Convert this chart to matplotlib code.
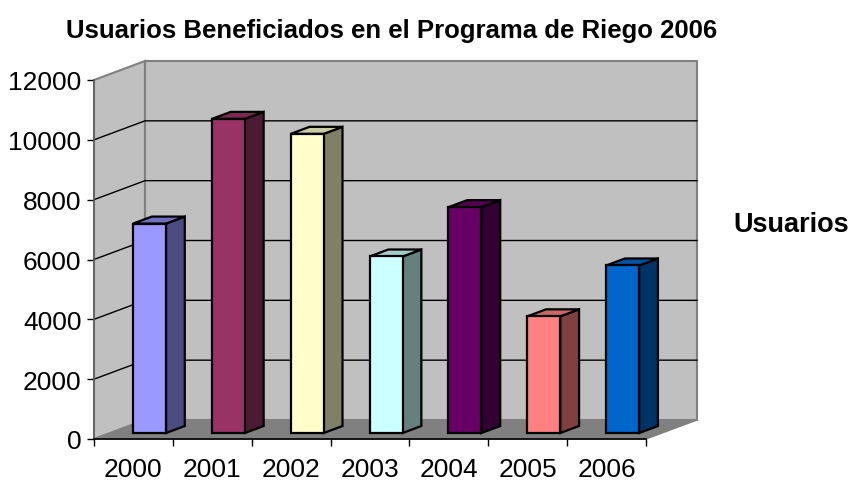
import numpy as np
import matplotlib
matplotlib.use('Agg')
import matplotlib.pyplot as plt

# --- Datos ---
YEARS = ['2000', '2001', '2002', '2003', '2004', '2005', '2006']
USERS = [7000, 10500, 10000, 5900, 7550, 3900, 5600]
FRONT = ['#9999FF', '#993366', '#FFFFCC', '#CCFFFF', '#660066', '#FF8080', '#0066CC']
SIDE = ['#4C4C80', '#4D1A33', '#808066', '#668080', '#330033', '#804040', '#003366']
TOP = ['#7070C0', '#7A2952', '#CCCCA3', '#A3CCCC', '#520052', '#CC6666', '#0052A3']
YTICKS = [0, 2000, 4000, 6000, 8000, 10000, 12000]
TITLE = 'Usuarios Beneficiados en el Programa de Riego 2006'
SERIES = 'Usuarios'

# --- Geometria 3D falsa (unidades de datos) ---
DX, DY = 0.6467, 635.0      # desplazamiento de profundidad total
D0, BD = 0.316, 0.368       # inicio y profundidad de la barra
W = 0.418                   # ancho de la cara frontal
YMAX = 12000
N = len(YEARS)

plt.rcParams['font.family'] = ['Liberation Sans', 'DejaVu Sans']

fig = plt.figure(figsize=(8.55, 4.81), dpi=100)
ax = fig.add_axes([94 / 855, 41 / 481, 552 / 855, 359 / 481])
ax.set_xlim(0, N)
ax.set_ylim(0, YMAX)
ax.patch.set_visible(False)

def poly(xs, ys, fc, ec, lw=1.0, z=1):
    ax.fill(xs, ys, facecolor=fc, edgecolor=ec, linewidth=lw, zorder=z, clip_on=False)

# paredes y piso
poly([0, DX, DX, 0], [0, DY, YMAX + DY, YMAX], '#C0C0C0', '#808080', 1.5, 1)
poly([DX, N + DX, N + DX, DX], [DY, DY, YMAX + DY, YMAX + DY], '#C0C0C0', '#808080', 1.5, 1)
poly([0, N, N + DX, DX], [0, 0, DY, DY], '#808080', '#808080', 1.0, 1)

# lineas de cuadricula
for v in YTICKS[1:-1]:
    ax.plot([0, DX, N + DX], [v, v + DY, v + DY], color='black', lw=1.0, zorder=2, clip_on=False)

# barras
for i, (v, fc, sc, tc) in enumerate(zip(USERS, FRONT, SIDE, TOP)):
    x0 = i + 0.5 - W / 2 + DX * D0
    y0 = DY * D0
    y1 = v + DY * D0
    ox, oy = DX * BD, DY * BD
    poly([x0 + W, x0 + W + ox, x0 + W + ox, x0 + W], [y0, y0 + oy, y1 + oy, y1], sc, 'black', 1.6, 3)
    poly([x0, x0 + W, x0 + W + ox, x0 + ox], [y1, y1, y1 + oy, y1 + oy], tc, 'black', 1.6, 3)
    poly([x0, x0 + W, x0 + W, x0], [y0, y0, y1, y1], fc, 'black', 1.6, 4)

# ejes
for s in ['top', 'right']:
    ax.spines[s].set_visible(False)
ax.spines['left'].set_color('#606060')
ax.spines['left'].set_linewidth(1.2)
ax.spines['bottom'].set_color('black')
ax.spines['bottom'].set_linewidth(1.2)
ax.spines['bottom'].set_zorder(5)

ax.set_yticks(YTICKS)
ax.set_yticklabels([str(t) for t in YTICKS])
ax.tick_params(axis='y', direction='out', length=5, width=1, pad=4, labelsize=19)

ax.set_xticks(np.arange(N + 1))
ax.set_xticklabels([])
ax.set_xticks(np.arange(N) + 0.5, minor=True)
ax.set_xticklabels(YEARS, minor=True)
ax.tick_params(axis='x', which='major', direction='out', length=5, width=1)
ax.tick_params(axis='x', which='minor', length=0, pad=13, labelsize=19)

fig.text(392 / 855, 1 - 31 / 481, TITLE, ha='center', va='center', fontsize=18.5, fontweight='bold')
fig.text(791 / 855, 1 - 225 / 481, SERIES, ha='center', va='center', fontsize=19.5, fontweight='bold')

fig.savefig('out.png', dpi=100)
